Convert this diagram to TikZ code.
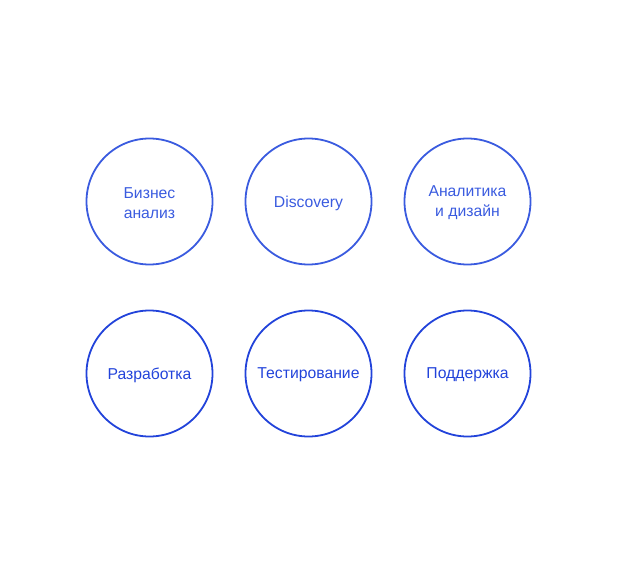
\documentclass[tikz,border=0pt]{standalone}
\usepackage{fontspec}
\setmainfont{Liberation Sans}
\definecolor{topblue}{HTML}{3A5BDF}
\definecolor{botblue}{HTML}{2243DA}
\begin{document}
\begin{tikzpicture}[x=1bp,y=-1bp,
  stage/.style={circle,draw,line width=1.8bp,minimum size=126bp,inner sep=0pt,align=center,font=\fontsize{15.8}{20}\selectfont},
  toprow/.style={stage,draw=topblue,text=topblue},
  botrow/.style={stage,draw=botblue,text=botblue},
  lbl/.style={align=center,font=\fontsize{15.8}{20}\selectfont,inner sep=0pt,yshift=-1.5bp}]
\useasboundingbox (0,0) rectangle (618,577);
\node[toprow] (biz) at (149.5,201.5) {};
\node[toprow] (disc) at (308.5,201.5) {};
\node[toprow] (anal) at (467.5,201.5) {};
\node[botrow] (dev) at (149.5,373.5) {};
\node[botrow] (test) at (308.5,373.5) {};
\node[botrow] (sup) at (467.5,373.5) {};
\node[lbl,text=topblue] (tbiz) at (biz) {Бизнес\\анализ};
\node[lbl,text=topblue] (tdisc) at (disc) {Discovery};
\node[lbl,text=topblue] (tanal) at (anal) {Аналитика\\и дизайн};
\node[lbl,text=botblue] (tdev) at (dev) {Разработка};
\node[lbl,text=botblue] (ttest) at (test) {Тестирование};
\node[lbl,text=botblue] (tsup) at (sup) {Поддержка};
\end{tikzpicture}
\end{document}
